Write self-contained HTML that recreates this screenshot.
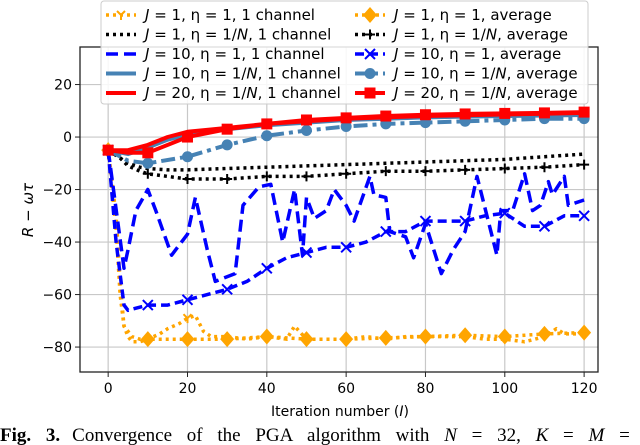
<!DOCTYPE html>
<html><head><meta charset="utf-8"><style>
body{margin:0;background:#fff;width:640px;height:445px;overflow:hidden}
svg{display:block}
text{font-family:"DejaVu Sans","Liberation Sans",sans-serif}
</style></head><body>
<svg id="chart" width="640" height="445" viewBox="0 0 640 445" xmlns="http://www.w3.org/2000/svg">
<g id="grid"></g>
<g id="series"></g>
<rect x="80" y="47" width="518" height="325" fill="none" stroke="#222" stroke-width="1.3"/>
<g id="ticks"></g>
<text transform="translate(33,210) rotate(-90)" text-anchor="middle" font-size="15" font-style="italic">R − ωτ</text>
<text x="340" y="416" text-anchor="middle" font-size="14">Iteration number (<tspan font-style="italic">I</tspan>)</text>
<g id="legend"></g>
<text x="0" y="441" font-size="19" style="font-family:'Liberation Serif',serif;word-spacing:10px"><tspan font-weight="bold">Fig. 3.</tspan><tspan dx="12">Convergence of the PGA algorithm with</tspan> <tspan font-style="italic">N</tspan> = 32, <tspan font-style="italic">K</tspan> = <tspan font-style="italic">M</tspan> =</text>
</svg>
<script>
const xTicks=[0,20,40,60,80,100,120];
const yTicks=[20,0,-20,-40,-60,-80];
// orange 1 channel
const o1X=[0,2,3,4,5,6,8,10,13,15,18,20,22,24,26,30,35,40,45,47,50,55,60,65,70,75,80,85,90,95,100,105,110,113,115,120];
const o1Y=[-5,-30,-55,-72,-76,-78,-78,-77,-75,-73,-71,-69,-68,-74,-76,-76,-77,-76,-77,-72,-77,-77,-77,-76,-77,-76,-76,-76,-76,-77,-77,-78,-76,-73,-75,-75];
// orange average
const oaX=[0,2,3,4,5,6,8,10,20,30,40,50,60,70,80,90,100,110,120];
const oaY=[-5,-35,-60,-72,-74,-76,-77,-77,-77,-77,-76,-77,-77,-76.5,-76,-75.5,-76,-75,-74.5];
// black 1 channel
const b1X=[0,3,5,8,10,15,20,30,40,50,60,70,80,90,100,110,120];
const b1Y=[-5,-8,-10,-11.5,-12,-12.5,-12.5,-12,-11.5,-11,-10.5,-10,-9.5,-9,-8.5,-7.5,-6.5];
// black average
const baX=[0,3,5,8,10,20,30,40,50,60,70,80,90,100,110,120];
const baY=[-5,-8,-11,-13,-14,-16,-16,-15,-15,-14,-13,-13,-12.5,-12,-11.5,-10.5];
// blue 1 channel
const l1X=[0,4,5,7,10,12,16,20,22,25,27,32,34,38,41,44,47,49,50,52,55,57,60,62,66,67,70,71,75,77,80,84,87,90,93,98,99,102,105,107,109,111,112,115,116,120];
const l1Y=[-5,-50,-43,-28,-20,-28,-45,-37,-23,-43,-55,-52,-26,-19,-18,-40,-20,-45,-23,-31,-28,-20,-26,-32,-15,-22,-23,-36,-38,-46,-33,-52,-43,-36,-15,-45,-28,-28,-14,-28,-26,-17,-22,-15,-26,-24];
// blue average
const laX=[0,2,4,5,10,15,20,25,30,35,40,45,50,55,60,65,70,75,80,85,90,95,100,105,110,115,120];
const laY=[-5,-40,-64,-66,-64,-64,-62,-60,-58,-55,-50,-46,-44,-42,-42,-40,-36,-36,-32,-32,-32,-30,-29,-34,-34,-30,-30];
// steelblue 1 channel
const s1X=[0,5,10,15,20,30,40,50,60,70,80,90,100,110,120];
const s1Y=[-5,-6.5,-4,-1,1,3,4.5,5.5,6.5,7,7.5,7.8,8,8.2,8.4];
// steelblue average
const saX=[0,5,10,20,30,40,50,60,70,80,90,100,110,120];
const saY=[-5,-9,-10,-7.5,-3,0.5,2.5,4,5,5.5,6,6.5,7,7];
// red 1 channel
const r1X=[0,5,10,15,20,30,40,50,60,70,80,90,100,110,120];
const r1Y=[-5,-5,-3,0,2,3.5,5,6,7,7.5,8,8.3,8.6,8.9,9.2];
// red average
const raX=[0,5,10,20,30,40,50,60,70,80,90,100,110,120];
const raY=[-5,-6,-6,0,3,5,6.5,7.3,8,8.5,8.8,9,9.2,9.5];

const NS="http://www.w3.org/2000/svg";
const X0=-7.1,X1=123.5,Y0=-89.5,Y1=34.3;
const PL=80,PR=598,PT=47,PB=372;
function sx(v){return PL+(v-X0)/(X1-X0)*(PR-PL);}
function sy(v){return PB-(v-Y0)/(Y1-Y0)*(PB-PT);}
function mk(tag,attrs,parent){const e=document.createElementNS(NS,tag);for(const k in attrs)e.setAttribute(k,attrs[k]);parent.appendChild(e);return e;}
const grid=document.getElementById('grid'),ticks=document.getElementById('ticks'),ser=document.getElementById('series'),leg=document.getElementById('legend');
xTicks.forEach(t=>{
 const g=mk('line',{x1:sx(t),x2:sx(t),y1:PT,y2:PB,stroke:'#c8c8c8','stroke-width':1.2},grid);
 
 
 const tk=mk('line',{x1:sx(t),x2:sx(t),y1:PB,y2:PB+5,stroke:'#222','stroke-width':1},ticks);
 
 
 const tl=mk('text',{x:sx(t),y:PB+21,'text-anchor':'middle','font-size':14},ticks);
 
 
 tl.textContent=t;
});
yTicks.forEach(t=>{
 const g=mk('line',{x1:PL,x2:PR,y1:sy(t),y2:sy(t),stroke:'#c8c8c8','stroke-width':1.2},grid);
 
 
 const tk=mk('line',{x1:PL-5,x2:PL,y1:sy(t),y2:sy(t),stroke:'#222','stroke-width':1},ticks);
 
 
 const tl=mk('text',{x:PL-8,y:sy(t)+5,'text-anchor':'end','font-size':14},ticks);
 
 
 tl.textContent=(t<0?'−'+(-t):t);
});
function marker(type,x,y,color,parent,size){
 let e;const s=size||1;
 if(type==='D'){e=mk('polygon',{points:`${x},${y-8*s} ${x+7*s},${y} ${x},${y+8*s} ${x-7*s},${y}`,fill:color},parent);}
 else if(type==='o'){e=mk('circle',{cx:x,cy:y,r:5.5*s,fill:color},parent);}
 else if(type==='s'){e=mk('rect',{x:x-5.5*s,y:y-5.5*s,width:11*s,height:11*s,fill:color},parent);}
 else if(type==='+'){e=mk('path',{d:`M${x-5*s},${y}H${x+5*s}M${x},${y-5*s}V${y+5*s}`,stroke:color,'stroke-width':2},parent);}
 else if(type==='x'){e=mk('path',{d:`M${x-5*s},${y-5*s}L${x+5*s},${y+5*s}M${x-5*s},${y+5*s}L${x+5*s},${y-5*s}`,stroke:color,'stroke-width':2},parent);}
 else if(type==='v'){e=mk('path',{d:`M${x-4*s},${y-4*s}L${x},${y}L${x+4*s},${y-4*s}M${x},${y}V${y+5*s}`,stroke:color,'stroke-width':2,fill:'none'},parent);}
 return e;
}
const S=[
 {n:'j1-eta1-1ch',xs:o1X,ys:o1Y,c:'#ffa500',w:3.5,d:'3 4',m:'v',mx:[20],lab:'1, η = 1, 1 channel'},
 {n:'j1-eta1-avg',xs:oaX,ys:oaY,c:'#ffa500',w:3.5,d:'3 4',m:'D',lab:'1, η = 1, average'},
 {n:'j1-etaN-1ch',xs:b1X,ys:b1Y,c:'#000',w:3.5,d:'3 4',m:null,lab:'1, η = 1/N, 1 channel'},
 {n:'j1-etaN-avg',xs:baX,ys:baY,c:'#000',w:3.5,d:'3 4',m:'+',lab:'1, η = 1/N, average'},
 {n:'j10-eta1-1ch',xs:l1X,ys:l1Y,c:'#0000ff',w:3.5,d:'12 6',m:null,lab:'10, η = 1, 1 channel'},
 {n:'j10-eta1-avg',xs:laX,ys:laY,c:'#0000ff',w:3.5,d:'9 5',m:'x',lab:'10, η = 1, average'},
 {n:'j10-etaN-1ch',xs:s1X,ys:s1Y,c:'#4682b4',w:4,d:'',m:null,lab:'10, η = 1/N, 1 channel'},
 {n:'j10-etaN-avg',xs:saX,ys:saY,c:'#4682b4',w:4,d:'14 5 4 5',m:'o',lab:'10, η = 1/N, average'},
 {n:'j20-etaN-1ch',xs:r1X,ys:r1Y,c:'#ff0000',w:4,d:'',m:null,lab:'20, η = 1/N, 1 channel'},
 {n:'j20-etaN-avg',xs:raX,ys:raY,c:'#ff0000',w:4,d:'',m:'s',lab:'20, η = 1/N, average'}
];
S.forEach(s=>{
 const g=mk('g',{},ser);
 
 
 const pts=s.xs.map((x,i)=>sx(x).toFixed(1)+','+sy(s.ys[i]).toFixed(1)).join(' ');
 const attrs={points:pts,fill:'none',stroke:s.c,'stroke-width':s.w,'stroke-linejoin':'round'};
 if(s.d)attrs['stroke-dasharray']=s.d;
 const pl=mk('polyline',attrs,g);
 
 
 if(s.m){
  s.xs.forEach((x,i)=>{
   const show=s.mx?s.mx.includes(x):(x%10===0);
   if(!show)return;
   const m=marker(s.m,sx(x),sy(s.ys[i]),s.c,g);
   
   
  });
 }
});
const lb=mk('rect',{x:101,y:1,width:487,height:103,rx:3,fill:'#fff','fill-opacity':0.85,stroke:'#ccc','stroke-width':1},leg);


S.forEach((s,i)=>{
 const col=i%2,row=Math.floor(i/2);
 const x0=col?355:106,y=15+row*19.5;
 const g=mk('g',{},leg);
 
 
 const a={x1:x0,x2:x0+30,y1:y,y2:y,stroke:s.c,'stroke-width':s.w};
 if(s.d)a['stroke-dasharray']=s.d;
 mk('line',a,g);
 if(s.m)marker(s.m,x0+15,y,s.c,g);
 const t=mk('text',{x:x0+39,y:y+5,'font-size':15},g);
 t.innerHTML='<tspan font-style="italic">J</tspan> = '+s.lab.replace('1/N','1/<tspan font-style="italic">N</tspan>');
});
</script>
</body></html>
